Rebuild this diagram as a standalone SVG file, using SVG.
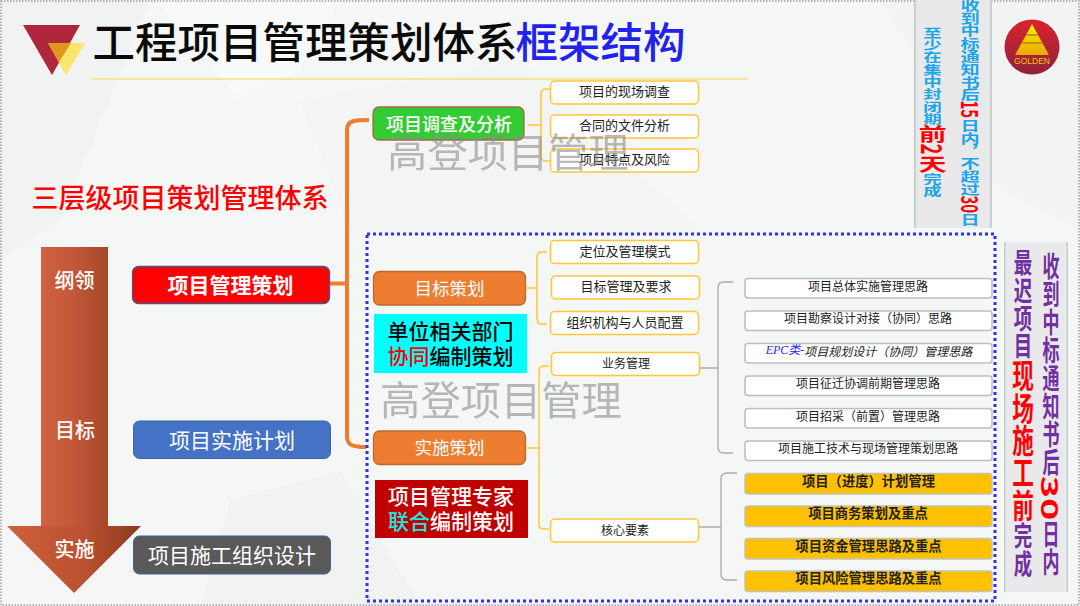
<svg xmlns="http://www.w3.org/2000/svg" width="1080" height="606" viewBox="0 0 1080 606">
<style>
text{font-family:"Noto Sans CJK SC","Liberation Sans",sans-serif;text-anchor:middle;dominant-baseline:central}
text:not(.v){transform:translateY(-1.3px)}
.serif{font-family:"Liberation Serif","Noto Sans CJK SC",serif}
.w{fill:#fff}
.yb{fill:#fff;stroke:#ffc637;stroke-width:1.5}
.gb{fill:#fff;stroke:#bdbdbd;stroke-width:1.5}
.ob{fill:#ffc000;stroke:#c4c4b4;stroke-width:1.5}
.t13{font-size:13px;fill:#222}
.t12{font-size:12px;fill:#222}
.t13b{font-size:13.300px;fill:#222;font-weight:700}
.yc{fill:none;stroke:#ffc637;stroke-width:1.5}
.gc{fill:none;stroke:#aaa;stroke-width:1.3}
.v{writing-mode:vertical-rl;text-anchor:start;dominant-baseline:auto;font-weight:700}
.blue{fill:#1ea5e6}
.pur{fill:#7030a0}
.red{fill:#ff0000}
</style>
<defs>
<linearGradient id="g1"><stop offset="0" stop-color="#d0623f"/><stop offset=".5" stop-color="#c2573a"/><stop offset="1" stop-color="#a5482a"/></linearGradient>
<linearGradient id="g2"><stop offset="0" stop-color="#cf603d"/><stop offset=".6" stop-color="#b9502f"/><stop offset="1" stop-color="#8a3a1c"/></linearGradient>
<linearGradient id="pn"><stop offset="0" stop-color="#b9c6c4"/><stop offset=".04" stop-color="#e9e9ec"/><stop offset=".96" stop-color="#e9e9ec"/><stop offset="1" stop-color="#b9c6c4"/></linearGradient>
<linearGradient id="lg" x1="0" y1="0" x2="0" y2="1"><stop offset="0" stop-color="#d9232f"/><stop offset="1" stop-color="#8f2238"/></linearGradient>
<linearGradient id="ty" x1="0" y1="0" x2="0" y2="1"><stop offset="0" stop-color="#fff000"/><stop offset="1" stop-color="#e8a800"/></linearGradient>
</defs>

<g id="background">
<rect width="1080" height="606" fill="#f5f6f6"/>
<polygon points="0,0 150,0 60,220 0,260" fill="#f1f2f2"/>
<polygon points="155,0 340,0 300,70 240,100" fill="#f8f9f9"/>
<polygon points="300,100 520,60 700,230 350,230" fill="#f3f4f4"/>
<polygon points="880,0 1080,0 1080,230 1000,190" fill="#f2f3f3"/>
<polygon points="230,500 340,470 420,606 200,606" fill="#f1f2f2"/>
<rect x="1" y="1" width="1078" height="604" fill="none" stroke="#a0a0a0" stroke-width="1.5" stroke-dasharray="1.5 1.5"/>
</g>

<g id="logo-left">
<polygon points="23,25 80,25 52,75" fill="#b0263a"/>
<polygon points="48,43 85,43 66,75" fill="#fbe56a"/>
<polygon points="48,43 71,43 59,62" fill="#e0951c"/>
</g>
<g id="title">
<text x="305" y="40.500" font-size="42.500" font-weight="500" fill="#0a0a0a">工程项目管理策划体系</text>
<text x="600.500" y="40.500" font-size="42.500" font-weight="500" fill="#2222ee">框架结构</text>
<line x1="91" y1="79" x2="748" y2="79" stroke="#f2e27e" stroke-width="1.5"/>
</g>
<g id="logo-right">
<circle cx="1032" cy="47" r="27.5" fill="url(#lg)"/>
<polygon points="1032,24 1015,55 1049,55" fill="url(#ty)"/>
<path d="M1026,35h12M1021,43h22" stroke="#b8801a" stroke-width="1.3"/>
<text x="1032" y="62.500" font-size="8.500" fill="#f5c518" style="font-family:'Liberation Sans',sans-serif">GOLDEN</text>
</g>
<text id="subtitle" x="180" y="198" font-size="27" font-weight="500" fill="#ff0000">三层级项目策划管理体系</text>

<g id="arrow">
<rect x="41" y="247" width="67" height="280" fill="url(#g1)"/>
<polygon points="7,526 141,526 74,593" fill="url(#g2)"/>
<text class="w" x="74.500" y="281" font-size="20" font-weight="500">纲领</text>
<text class="w" x="75" y="431" font-size="20" font-weight="500">目标</text>
<text class="w" x="74.500" y="550" font-size="20" font-weight="500">实施</text>
</g>

<g id="connectors">
<path d="M369,120 C355,120 347,120 347,130 V437 C347,446 355,447 366,447 M314,283.500 H347" fill="none" stroke="#ed7d31" stroke-width="4"/>
<path class="yc" d="M528,125 H541 M550,89 H546 Q541,89 541,94 V156 Q541,161 546,161 H550"/>
<path class="yc" d="M525,288 H537 M547,252 H542 Q537,252 537,257 V319 Q537,324 542,324 H547"/>
<path class="yc" d="M527,448 H539 M549,366 H544 Q539,366 539,371 V524 Q539,529 544,529 H549"/>
<path class="gc" d="M700,368 H718 M733,282 H724 Q718,282 718,288 V447 Q718,453 724,453 H733"/>
<path class="gc" d="M699,527 H721 M737,473 H727 Q721,473 721,479 V574 Q721,580 727,580 H737"/>
</g>

<g id="n-plan1"><rect x="132.500" y="266.500" width="197" height="37" rx="6" fill="#ff0000" stroke="#41598c" stroke-width="1.3"/><text class="w" x="230.500" y="285" font-size="21" font-weight="700">项目管理策划</text></g>
<g id="n-plan2"><rect x="133.500" y="421" width="197" height="37.500" rx="6" fill="#4472c4" stroke="#41639e"/><text class="w" x="232" y="440" font-size="21">项目实施计划</text></g>
<g id="n-plan3"><rect x="133.500" y="536" width="197" height="38" rx="6" fill="#595959" stroke="#41639e"/><text class="w" x="232" y="555.500" font-size="21">项目施工组织设计</text></g>

<g id="n-survey"><rect x="373" y="107" width="151" height="33" rx="6" fill="#33cc33" stroke="#a9683f" stroke-width="1.3"/><text class="w" x="449" y="124" font-size="18" font-weight="500">项目调查及分析</text></g>
<g id="n-goal"><rect x="373.500" y="271.500" width="152" height="33.500" rx="6" fill="#ed7d31" stroke="#b96a32" stroke-width="1.3"/><text class="w" x="449.500" y="288.500" font-size="17.500">目标策划</text></g>
<g id="n-impl"><rect x="373.500" y="431" width="152" height="33.500" rx="6" fill="#ed7d31" stroke="#b96a32" stroke-width="1.3"/><text class="w" x="449.500" y="448" font-size="17.500">实施策划</text></g>

<g id="n-dept"><rect x="374" y="314" width="153" height="59" fill="#00ffff"/><text x="450.500" y="331" font-size="21" font-weight="500" fill="#000">单位相关部门</text><text x="450.500" y="356" font-size="21" font-weight="500" fill="#000"><tspan fill="#ff0000">协同</tspan>编制策划</text></g>
<g id="n-expert"><rect x="375" y="480" width="153" height="58" fill="#c00000"/><text class="w" x="451" y="496" font-size="21" font-weight="500">项目管理专家</text><text class="w" x="451" y="521" font-size="21" font-weight="500"><tspan fill="#20e8e0">联合</tspan>编制策划</text></g>

<g id="n-a1"><rect class="yb" x="550.500" y="81" width="148" height="23" rx="4"/><text class="t13" x="624.500" y="92">项目的现场调查</text></g>
<g id="n-a2"><rect class="yb" x="550.500" y="115" width="148" height="23" rx="4"/><text class="t13" x="624.500" y="126">合同的文件分析</text></g>
<g id="n-a3"><rect class="yb" x="550.500" y="149" width="148" height="23" rx="4"/><text class="t13" x="624.500" y="160">项目特点及风险</text></g>
<g id="n-b1"><rect class="yb" x="550.500" y="240.500" width="148" height="23" rx="4"/><text class="t13" x="625" y="251.500">定位及管理模式</text></g>
<g id="n-b2"><rect class="yb" x="551.500" y="276" width="148" height="23" rx="4"/><text class="t13" x="626" y="287">目标管理及要求</text></g>
<g id="n-b3"><rect class="yb" x="550.500" y="311.500" width="148" height="23" rx="4"/><text class="t13" x="625" y="322.500">组织机构与人员配置</text></g>
<g id="n-c1"><rect class="yb" x="551.500" y="352.500" width="148" height="23" rx="4"/><text class="t12" x="626" y="363.500">业务管理</text></g>
<g id="n-c2"><rect class="yb" x="550.500" y="519" width="148" height="23" rx="4"/><text class="t12" x="625" y="530.500">核心要素</text></g>

<g id="n-d1"><rect class="gb" x="745" y="278.500" width="247" height="19.500" rx="3"/><text class="t12" x="868" y="286.500">项目总体实施管理思路</text></g>
<g id="n-d2"><rect class="gb" x="745" y="311" width="247" height="19.500" rx="3"/><text class="t12" x="868" y="319">项目勘察设计对接（协同）思路</text></g>
<g id="n-d3"><rect class="gb" x="745" y="343.500" width="247" height="19.500" rx="3"/><text class="t12" x="869" y="351.500" font-style="italic"><tspan class="serif" fill="#2a2aee">EPC类-</tspan>项目规划设计（协同）管理思路</text></g>
<g id="n-d4"><rect class="gb" x="745" y="376" width="247" height="19.500" rx="3"/><text class="t12" x="868" y="384">项目征迁协调前期管理思路</text></g>
<g id="n-d5"><rect class="gb" x="745" y="408.500" width="247" height="19.500" rx="3"/><text class="t12" x="868" y="416.500">项目招采（前置）管理思路</text></g>
<g id="n-d6"><rect class="gb" x="745" y="441" width="247" height="19.500" rx="3"/><text class="t12" x="868" y="449">项目施工技术与现场管理策划思路</text></g>
<g id="n-e1"><rect class="ob" x="745" y="473.500" width="247" height="20.500" rx="3"/><text class="t13b" x="868.500" y="481.500">项目（进度）计划管理</text></g>
<g id="n-e2"><rect class="ob" x="745" y="506" width="247" height="20.500" rx="3"/><text class="t13b" x="868" y="514">项目商务策划及重点</text></g>
<g id="n-e3"><rect class="ob" x="745" y="538.500" width="247" height="20.500" rx="3"/><text class="t13b" x="868.500" y="546.500">项目资金管理思路及重点</text></g>
<g id="n-e4"><rect class="ob" x="745" y="571" width="247" height="20.500" rx="3"/><text class="t13b" x="868.500" y="579" >项目风险管理思路及重点</text></g>

<g id="dotted-frame"><rect x="367" y="234" width="628" height="367" fill="none" stroke="#3030f0" stroke-width="3" stroke-dasharray="3 3"/></g>

<g id="panel-top">
<rect x="914" y="0" width="78" height="228" fill="url(#pn)"/>
<text class="v blue" transform="translate(970,-1.500) scale(1.5,1)" font-size="12.800">收到中标通知书后<tspan class="red" font-size="15">15</tspan>日内，不超过<tspan class="red" font-size="15">30</tspan>日</text>
<text class="v blue" transform="translate(932.500,27) scale(1.5,1)" font-size="12.300">至少在集中封闭期<tspan class="red" font-size="18.500">前2天</tspan>完成</text>
</g>
<g id="panel-bottom">
<rect x="1004" y="242" width="64" height="350" fill="url(#pn)"/>
<text class="v pur" transform="translate(1051,252) scale(.85,1.4)" font-size="20">收到中标通知书后<tspan class="red" font-size="27">30</tspan>日内</text>
<text class="v pur" transform="translate(1023,249) scale(.9,1.35)" font-size="20.500">最迟项目<tspan class="red" font-size="24">现场施工前</tspan>完成</text>
</g>

<g id="watermarks" fill="#8c8c8c" opacity=".6">
<text x="508" y="151" font-size="40.300">高登项目管理</text>
<text x="501" y="399" font-size="40.300">高登项目管理</text>
</g>
</svg>
